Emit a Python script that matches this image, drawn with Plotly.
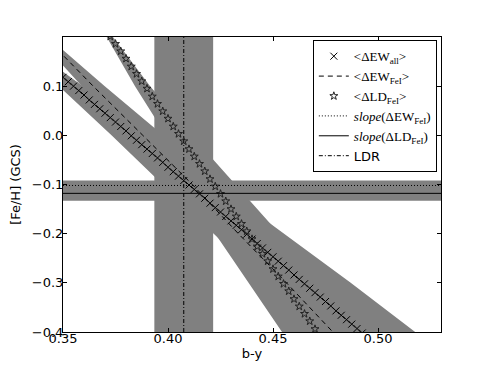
import plotly.graph_objects as go

# axis limits
x_range = [0.35, 0.53]
y_range = [-0.4, 0.2]

# b-y sampling used for the marker series
by_grid = [0.3500, 0.3525, 0.3550, 0.3575, 0.3600, 0.3625, 0.3650, 0.3675, 0.3700, 0.3725,
           0.3750, 0.3775, 0.3800, 0.3825, 0.3850, 0.3875, 0.3900, 0.3925, 0.3950, 0.3975,
           0.4000, 0.4025, 0.4050, 0.4075, 0.4100, 0.4125, 0.4150, 0.4175, 0.4200, 0.4225,
           0.4250, 0.4275, 0.4300, 0.4325, 0.4350, 0.4375, 0.4400, 0.4425, 0.4450, 0.4475,
           0.4500, 0.4525, 0.4550, 0.4575, 0.4600, 0.4625, 0.4650, 0.4675, 0.4700, 0.4725,
           0.4750, 0.4775, 0.4800, 0.4825, 0.4850, 0.4875, 0.4900, 0.4925]

# <dEW_all> relation (x markers)
feh_ew_all = [0.118, 0.109, 0.100, 0.091, 0.082, 0.072, 0.063, 0.054, 0.045, 0.036,
              0.027, 0.018, 0.009, -0.001, -0.010, -0.019, -0.028, -0.037, -0.046, -0.055,
              -0.065, -0.074, -0.083, -0.092, -0.101, -0.110, -0.119, -0.128, -0.138, -0.147,
              -0.156, -0.165, -0.174, -0.183, -0.192, -0.201, -0.211, -0.220, -0.229, -0.238,
              -0.247, -0.256, -0.265, -0.274, -0.284, -0.293, -0.302, -0.311, -0.320, -0.329,
              -0.338, -0.347, -0.357, -0.366, -0.375, -0.384, -0.393, -0.402]

# <dLD_FeI> relation (star markers), on by_grid[9:49]
feh_ld_fe = [0.201, 0.186, 0.171, 0.156, 0.140, 0.125, 0.110, 0.095, 0.079, 0.064,
             0.049, 0.034, 0.018, 0.003, -0.012, -0.028, -0.043, -0.058, -0.073, -0.089,
             -0.104, -0.119, -0.134, -0.150, -0.165, -0.180, -0.195, -0.211, -0.226, -0.241,
             -0.256, -0.272, -0.287, -0.302, -0.317, -0.333, -0.348, -0.363, -0.378, -0.394]

# [Fe/H] levels at which the calibrations and their limits are tabulated
feh_levels = [0.2, 0.1, 0.0, -0.1, -0.2, -0.3, -0.4]

# <dEW_FeI> (dashed) b-y and its limits
by_ew_fe = [0.3415, 0.3644, 0.3880, 0.4116, 0.4335, 0.4564, 0.4785]
by_ew_fe_lo = [0.3377, 0.3590, 0.3810, 0.4023, 0.4235, 0.4449, 0.4655]
by_ew_fe_hi = [0.3429, 0.3699, 0.3977, 0.4246, 0.4514, 0.4784, 0.5045]

# limits of <dEW_all>
by_ew_all_lo = [0.3238, 0.3480, 0.3731, 0.3975, 0.4217, 0.4460, 0.4696]
by_ew_all_hi = [0.3272, 0.3589, 0.3917, 0.4234, 0.4550, 0.4870, 0.5177]

# limits of <dLD_FeI>
by_ld_fe_lo = [0.3708, 0.3843, 0.3990, 0.4110, 0.4225, 0.4384, 0.4543]
by_ld_fe_hi = [0.3738, 0.3915, 0.4112, 0.4319, 0.4530, 0.4746, 0.4952]

# slope based [Fe/H] and LDR colour, with errors
slope_ew_feh, slope_ew_err = -0.102, 0.010
slope_ld_feh, slope_ld_err = -0.118, 0.015
ldr_by, ldr_err = 0.4075, 0.014

GRAY = '#808080'

fig = go.Figure()

# uncertainty bands of the three calibrations
for lo, hi in [(by_ew_all_lo, by_ew_all_hi), (by_ew_fe_lo, by_ew_fe_hi), (by_ld_fe_lo, by_ld_fe_hi)]:
    fig.add_trace(go.Scatter(
        x=lo + hi[::-1], y=feh_levels + feh_levels[::-1],
        mode='lines', fill='toself', fillcolor=GRAY,
        line=dict(width=0, color=GRAY), hoverinfo='skip', showlegend=False
    ))

# bands for the slope estimates and the LDR colour
for feh, err in [(slope_ew_feh, slope_ew_err), (slope_ld_feh, slope_ld_err)]:
    fig.add_shape(type='rect', xref='paper', x0=0, x1=1, yref='y',
                  y0=feh - err, y1=feh + err, fillcolor=GRAY, line_width=0, layer='below')
fig.add_shape(type='rect', yref='paper', y0=0, y1=1, xref='x',
              x0=ldr_by - ldr_err, x1=ldr_by + ldr_err, fillcolor=GRAY, line_width=0, layer='below')

fig.add_trace(go.Scatter(
    x=by_grid, y=feh_ew_all, mode='markers',
    marker=dict(symbol='x-thin', size=7, line=dict(width=1, color='black'), color='black'),
    name='&lt;ΔEW<sub>all</sub>&gt;'
))
fig.add_trace(go.Scatter(
    x=by_ew_fe, y=feh_levels, mode='lines',
    line=dict(color='black', width=1, dash='5px,4px'),
    name='&lt;ΔEW<sub>FeI</sub>&gt;'
))
fig.add_trace(go.Scatter(
    x=by_grid[9:49], y=feh_ld_fe, mode='markers',
    marker=dict(symbol='star-open', size=6, color='#222222', line=dict(width=1)),
    name='&lt;ΔLD<sub>FeI</sub>&gt;'
))
fig.add_trace(go.Scatter(
    x=x_range, y=[slope_ew_feh, slope_ew_feh], mode='lines',
    line=dict(color='black', width=1, dash='1px,2px'),
    name='<i>slope</i>(ΔEW<sub>FeI</sub>)'
))
fig.add_trace(go.Scatter(
    x=x_range, y=[slope_ld_feh, slope_ld_feh], mode='lines',
    line=dict(color='black', width=1),
    name='<i>slope</i>(ΔLD<sub>FeI</sub>)'
))
fig.add_trace(go.Scatter(
    x=[ldr_by, ldr_by], y=y_range, mode='lines',
    line=dict(color='black', width=1, dash='4px,2px,1px,2px'),
    name='<span style="font-family:DejaVu Sans">LDR</span>'
))

axis_common = dict(
    showgrid=False, zeroline=False, showline=True, linecolor='black', linewidth=1,
    mirror='ticks', ticks='inside', ticklen=4, tickcolor='black',
    tickfont=dict(size=13, color='black'), automargin=False
)

fig.update_xaxes(
    range=x_range, tickvals=[0.35, 0.40, 0.45, 0.50],
    ticktext=['0.35', '0.40', '0.45', '0.50'], ticklabelstandoff=-6,
    title=dict(text='b-y', font=dict(size=13, color='black'), standoff=0),
    **axis_common
)
fig.update_yaxes(
    range=y_range, tickvals=[-0.4, -0.3, -0.2, -0.1, 0.0, 0.1],
    ticktext=['\u22120.4', '\u22120.3', '\u22120.2', '\u22120.1', '0.0', '0.1'],
    ticklabelstandoff=-4,
    title=dict(text='[Fe/H] (GCS)', font=dict(size=13, color='black'), standoff=17),
    **axis_common
)

# the page puts the figure 8px in from the top-left corner
fig.update_layout(
    width=483, height=360,
    margin=dict(l=55, r=50, t=29, b=36),
    paper_bgcolor='white', plot_bgcolor='white',
    font=dict(family='DejaVu Sans', color='black'),
    legend=dict(
        x=0.989, y=0.989, xanchor='right', yanchor='top',
        bgcolor='white', bordercolor='black', borderwidth=1,
        font=dict(size=13, color='black', family='Liberation Serif'), itemwidth=30,
        tracegroupgap=0
    )
)

fig.write_html("out.html")
